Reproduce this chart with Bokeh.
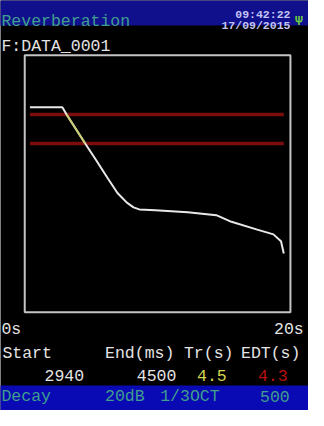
from bokeh.plotting import figure
from bokeh.models import Range1d
from bokeh.core.properties import value
from bokeh.embed import file_html
from bokeh.resources import INLINE

# ---------------- data ----------------
time_s = [0.39, 2.83, 3.15, 4.55, 5.33, 6.26, 6.98, 7.69, 8.19, 8.62, 9.84,
          12.27, 14.42, 15.56, 17.5, 18.72, 19.29, 19.5]
level_db = [142.0, 142.0, 137.0, 117.0, 106.0, 92.7, 82.7, 76.0, 72.7, 71.3, 70.7,
            69.3, 67.3, 62.7, 57.3, 54.0, 49.3, 40.7]
decay_start_db = 137.0
decay_end_db = 117.0
t_max = 20.0
level_max = 178.0

title = "Reverberation"
clock_time = "09:42:22"
clock_date = "17/09/2015"
file_name = "F:DATA_0001"
axis_labels = ["0s", "20s"]
result_headers = ["Start", "End(ms)", "Tr(s)", "EDT(s)"]
result_values = ["2940", "4500", "4.5", "4.3"]
footer_items = ["Decay", "20dB", "1/3OCT", "500"]

# ---------------- layout helpers (reference pixel -> data) ----------------
REF_W, REF_H = 324, 426
BOX_L, BOX_R, BOX_T, BOX_B = 25.5, 305.0, 57.0, 324.0


def X(rx):
    return (rx - BOX_L) * t_max / (BOX_R - BOX_L)


def Y(ry):
    return (BOX_B - ry) * level_max / (BOX_B - BOX_T)


FONT = "Liberation Mono"
WHITE = "#e4e4e4"
TEAL = "#3f9f8c"

p = figure(width=308, height=410, output_backend="svg", toolbar_location=None,
           x_range=Range1d(X(0), X(REF_W)), y_range=Range1d(Y(REF_H), Y(0)),
           x_axis_location=None, y_axis_location=None, min_border=0)
p.grid.visible = False
p.outline_line_color = None
p.background_fill_color = "black"
p.border_fill_color = "black"

# header / footer bars
p.quad(left=X(-5), right=X(REF_W + 5), bottom=Y(26), top=Y(-5),
       fill_color="#10108c", line_color=None)
p.quad(left=X(-5), right=X(REF_W + 5), bottom=Y(REF_H + 5), top=Y(400),
       fill_color="#0a0ab4", line_color=None)

# plot box
p.quad(left=0, right=t_max, bottom=0, top=level_max, fill_color=None,
       line_color="#c4c4c4", line_width=2)

# decay range lines
for lv in (decay_start_db, decay_end_db):
    p.line(x=[time_s[0], time_s[-1]], y=[lv, lv], line_color="#7c0d0d",
           line_width=3.5)

# decay curve
p.line(x=time_s, y=level_db, line_color="#e8e8e8", line_width=2)
hx = [t for t, l in zip(time_s, level_db) if decay_end_db <= l <= decay_start_db]
hy = [l for l in level_db if decay_end_db <= l <= decay_start_db]
p.line(x=hx, y=hy, line_color="#c8cc70", line_width=2)


def txt(s, rx, ry, color, size="16.5px", align="left", style="normal",
        baseline="alphabetic"):
    p.text(x=[X(rx)], y=[Y(ry)], text=[s], text_color=color,
           text_font=value(FONT), text_font_size=size, text_align=align,
           text_baseline=baseline, text_font_style=style)


txt(title, 1, 22, TEAL)
txt(clock_time, 305, 15, "#c4c4f4", size="11.5px", align="right", style="bold")
txt(clock_date, 305, 26, "#c4c4f4", size="11.5px", align="right", style="bold")
txt("\u03a8", 318, 22, "#6ecf3c", size="13px", align="right", style="bold")
txt(file_name, 1, 48, WHITE)

txt(axis_labels[0], 1, 342, WHITE)
txt(axis_labels[1], 319, 342, WHITE, align="right")

header_x = [2, 110, 193, 253]
for s, rx in zip(result_headers, header_x):
    txt(s, rx, 367, WHITE)

value_right = [88, 185, 238, 302]
value_colors = [WHITE, WHITE, "#d6d650", "#b81010"]
for s, rx, c in zip(result_values, value_right, value_colors):
    txt(s, rx, 390, c, align="right")

footer_x = [1, 110, 168, 273]
for s, rx in zip(footer_items, footer_x):
    txt(s, rx, 411, TEAL, baseline="middle")

open("out.html", "w").write(file_html(p, INLINE))
